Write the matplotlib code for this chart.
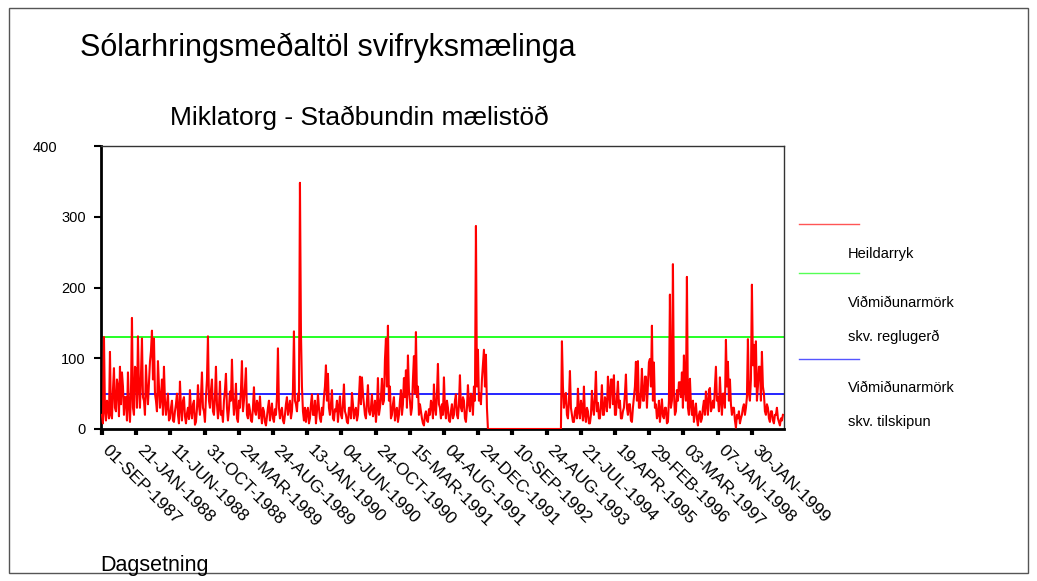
import numpy as np
import matplotlib
matplotlib.use("Agg")
import matplotlib.pyplot as plt
from matplotlib.lines import Line2D
from matplotlib.patches import Rectangle
from matplotlib.transforms import ScaledTranslation

plt.rcParams['font.family'] = ['Liberation Sans', 'DejaVu Sans']

# Tick labels (one every 142 observations)
tick_labels = ["01-SEP-1987", "21-JAN-1988", "11-JUN-1988", "31-OCT-1988", "24-MAR-1989",
               "24-AUG-1989", "13-JAN-1990", "04-JUN-1990", "24-OCT-1990", "15-MAR-1991",
               "04-AUG-1991", "24-DEC-1991", "10-SEP-1992", "24-AUG-1993", "21-JUL-1994",
               "19-APR-1995", "29-FEB-1996", "03-MAR-1997", "07-JAN-1998", "30-JAN-1999"]
obs_per_tick = 142
n_obs = 2832
obs_per_point = 4.152  # each value below is a sample of the daily series

# Heildarryk (daily means, sampled), one row per tick interval
heildarryk = [
    20, 8, 130, 25, 12, 40, 30, 15, 109, 20, 15, 55, 86, 30, 25, 70, 60, 18, 88, 35, 80, 60, 20, 45, 45, 12, 80, 35, 10, 50, 157, 30, 20, 88,
    85, 30, 131, 60, 30, 75, 128, 45, 40, 20, 90, 55, 35, 65, 95, 110, 139, 70, 128, 50, 40, 25, 96, 60, 30, 45, 70, 20, 88, 40, 20, 35, 50, 12,
    15, 30, 40, 12, 10, 25, 35, 50, 20, 8, 67, 30, 12, 40, 45, 18, 8, 22, 30, 14, 55, 25, 15, 35, 40, 6, 10, 28, 62, 35, 20, 45, 80, 30,
    25, 10, 45, 70, 131, 40, 30, 55, 70, 25, 20, 45, 88, 35, 15, 30, 67, 20, 25, 10, 40, 55, 78, 30, 12, 28, 53, 40, 98, 45, 20, 35, 64, 15,
    10, 40, 30, 55, 96, 25, 40, 60, 86, 20, 15, 35, 26, 12, 10, 30, 59, 25, 20, 40, 35, 15, 46, 22, 8, 30, 25, 10, 5, 18, 30, 40, 12, 25,
    36, 15, 10, 28, 20, 45, 114, 30, 15, 25, 30, 12, 8, 20, 35, 45, 20, 30, 40, 15, 25, 55, 138, 40, 35, 25, 50, 40, 348, 137, 60, 25, 12, 30,
    10, 25, 30, 8, 15, 35, 49, 20, 20, 40, 8, 25, 49, 30, 15, 10, 30, 20, 45, 60, 90, 40, 78, 30, 20, 35, 55, 15, 12, 28, 25, 40, 10, 30,
    46, 20, 15, 35, 63, 25, 20, 10, 8, 30, 30, 15, 51, 35, 15, 25, 30, 12, 20, 45, 74, 35, 73, 50, 35, 20, 15, 40, 62, 25, 20, 30, 49, 18,
    25, 40, 10, 30, 72, 20, 30, 45, 71, 35, 40, 98, 128, 60, 146, 40, 60, 15, 20, 35, 45, 12, 25, 30, 10, 20, 40, 55, 20, 35, 72, 45, 83, 30,
    104, 55, 40, 20, 30, 70, 103, 50, 137, 45, 60, 20, 35, 25, 15, 8, 5, 20, 25, 12, 10, 28, 20, 40, 35, 15, 63, 30, 20, 50, 92, 35, 30, 15,
    35, 20, 73, 30, 15, 40, 30, 12, 10, 25, 35, 15, 20, 40, 49, 20, 15, 35, 76, 30, 25, 45, 40, 15, 10, 30, 62, 35, 25, 50, 45, 20, 60, 40,
    287, 60, 112, 40, 50, 35, 70, 90, 112, 60, 105, 30, 0, 0, 0, 0, 0, 0, 0, 0, 0, 0, 0, 0, 0, 0, 0, 0, 0, 0, 0, 0, 0, 0,
    0, 0, 0, 0, 0, 0, 0, 0, 0, 0, 0, 0, 0, 0, 0, 0, 0, 0, 0, 0, 0, 0, 0, 0, 0, 0, 0, 0, 0, 0, 0, 0, 0, 0,
    0, 0, 0, 0, 0, 0, 0, 0, 0, 0, 0, 0, 0, 0, 0, 0, 0, 0, 124, 60, 30, 45, 51, 20, 15, 40, 82, 30, 20, 10, 10, 25, 30, 15,
    57, 25, 15, 40, 30, 12, 60, 20, 10, 30, 25, 8, 8, 20, 54, 30, 20, 45, 81, 25, 37, 15, 15, 35, 62, 20, 20, 45, 40, 25, 74, 50, 30, 70,
    70, 35, 76, 20, 20, 45, 67, 30, 40, 15, 15, 25, 30, 50, 77, 30, 20, 35, 35, 12, 10, 30, 45, 60, 95, 40, 96, 30, 30, 50, 85, 40, 40, 74,
    74, 30, 61, 94, 99, 60, 146, 40, 94, 30, 35, 15, 20, 40, 10, 25, 42, 18, 15, 30, 30, 8, 10, 40, 190, 30, 40, 233, 51, 20, 25, 55, 40, 66,
    66, 45, 80, 30, 104, 60, 40, 215, 30, 20, 71, 35, 20, 40, 10, 25, 36, 15, 5, 20, 25, 10, 15, 30, 40, 20, 53, 35, 20, 55, 58, 25, 30, 40,
    30, 60, 88, 40, 45, 25, 73, 40, 20, 50, 50, 30, 126, 60, 95, 40, 70, 35, 20, 30, 30, 12, 2, 20, 15, 25, 8, 15, 20, 30, 35, 20, 30, 45,
    127, 50, 40, 70, 204, 90, 119, 60, 124, 40, 60, 88, 88, 40, 109, 60, 50, 25, 20, 35, 30, 15, 10, 25, 25, 12, 8, 20, 20, 30, 15, 10, 5, 15, 12, 20,
]
reglugerd_limit = 130
tilskipun_limit = 50

W, H = 1037, 581
fig = plt.figure(figsize=(W / 100, H / 100), dpi=100)
fig.patch.set_facecolor('white')

# outer frame
fig.add_artist(Rectangle((9 / W, 8 / H), 1019 / W, 565 / H, transform=fig.transFigure,
                         fill=False, edgecolor='#555555', linewidth=1))

ax = fig.add_axes([101 / W, (H - 429) / H, (784 - 101) / W, (429 - 146) / H])

x = np.arange(len(heildarryk)) * obs_per_point
ax.plot(x, heildarryk, color='#ff0000', linewidth=1.5, zorder=3)
ax.axhline(reglugerd_limit, color='#00ff00', linewidth=1.2, zorder=2)
ax.axhline(tilskipun_limit, color='#0000ff', linewidth=1.2, zorder=2)

ax.set_xlim(-4, n_obs)
ax.set_ylim(0, 400)
ax.set_yticks([0, 100, 200, 300, 400])
ax.set_yticklabels(["0", "100", "200", "300", "400"], fontsize=10.5)
ticks = np.arange(len(tick_labels)) * obs_per_tick
ax.set_xticks(ticks)
ax.set_xticklabels(tick_labels, rotation=-45, ha='left', va='top',
                   rotation_mode='anchor', fontsize=12.5)
ax.tick_params(axis='x', direction='out', length=4, width=3, pad=6)
ax.tick_params(axis='y', direction='out', length=5, width=1.5, pad=6)
for s in ['left', 'bottom']:
    ax.spines[s].set_linewidth(2)
    ax.spines[s].set_color('black')
for s in ['top', 'right']:
    ax.spines[s].set_linewidth(1)
    ax.spines[s].set_color('#333333')

xoff = ScaledTranslation(8 / 100, 0, fig.dpi_scale_trans)
for lbl in ax.get_xticklabels():
    lbl.set_transform(lbl.get_transform() + xoff)
top_lbl = ax.get_yticklabels()[-1]
top_lbl.set_transform(top_lbl.get_transform() + ScaledTranslation(-28 / 100, 0, fig.dpi_scale_trans))

fig.text(80 / W, 1 - 48 / H, "Sólarhringsmeðaltöl svifryksmælinga", fontsize=22,
         ha='left', va='center')
fig.text(359 / W, 1 - 118 / H, "Miklatorg - Staðbundin mælistöð", fontsize=19,
         ha='center', va='center')
fig.text(100 / W, 1 - 565 / H, "Dagsetning", fontsize=15.5, ha='left', va='center')

# legend drawn manually
leg_lines = [(224, '#ff5555'), (273, '#55ff55'), (359, '#5555ff')]
for yy, c in leg_lines:
    fig.add_artist(Line2D([799 / W, 859 / W], [1 - yy / H, 1 - yy / H],
                          transform=fig.transFigure, color=c, linewidth=1))
leg_texts = [(254, "Heildarryk"), (303, "Viðmiðunarmörk"), (337, "skv. reglugerð"),
             (388, "Viðmiðunarmörk"), (422, "skv. tilskipun")]
for yy, t in leg_texts:
    fig.text(848 / W, 1 - yy / H, t, fontsize=10.5, ha='left', va='center')

fig.savefig("out.png", dpi=100, facecolor='white')
